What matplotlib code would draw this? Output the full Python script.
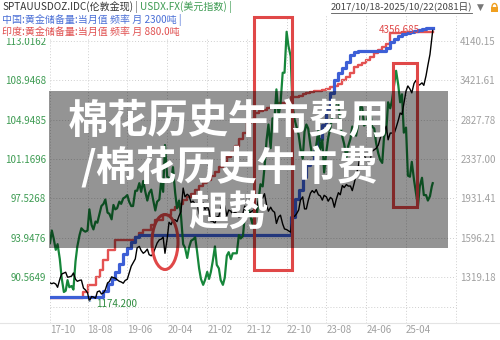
import matplotlib
matplotlib.use("Agg")
import matplotlib.patches as mpatches
import matplotlib.pyplot as plt
import matplotlib.transforms as mtransforms
import numpy as np
import pandas as pd
from matplotlib.lines import Line2D
from matplotlib.ticker import NullLocator

FONT = ["Noto Sans CJK SC", "DejaVu Sans"]
plt.rcParams["font.family"] = FONT

start_date = "2017-10-18"
end_date = "2025-10-22"

# gold spot (USD/oz), start date, then 1st/15th of every month, then end date
gold = [1282,
        1277, 1282, 1275, 1255,
        1305, 1338, 1345, 1350, 1318, 1320, 1325, 1345, 1305, 1292, 1298, 1300,
        1250, 1240, 1222, 1174.2, 1200, 1197, 1190, 1228, 1233, 1215, 1222, 1240,
        1282, 1290, 1320, 1315, 1312, 1302, 1292, 1288, 1280, 1297, 1305, 1345,
        1390, 1412, 1440, 1520, 1530, 1500, 1480, 1490, 1510, 1470, 1462, 1476,
        1520, 1555, 1580, 1585, 1600, 1480, 1590, 1720, 1700, 1740, 1740, 1725,
        1775, 1810, 2030, 1945, 1970, 1955, 1890, 1905, 1880, 1885, 1790, 1855,
        1890, 1830, 1860, 1820, 1730, 1730, 1710, 1765, 1770, 1840, 1905, 1860,
        1775, 1825, 1815, 1780, 1815, 1790, 1760, 1770, 1795, 1860, 1780, 1780,
        1810, 1820, 1800, 1855, 1910, 1930, 1935, 1975, 1870, 1815, 1850, 1820,
        1805, 1710, 1765, 1780, 1705, 1665, 1660, 1650, 1640, 1775, 1770, 1790,
        1825, 1915, 1945, 1835, 1835, 1910, 1980, 2005, 1985, 2015, 1965, 1955,
        1915, 1960, 1945, 1905, 1940, 1925, 1850, 1920, 1985, 1965, 2055, 2035,
        2065, 2050, 2050, 2005, 2080, 2160, 2250, 2380, 2305, 2385, 2330, 2320,
        2330, 2425, 2445, 2460, 2500, 2580, 2660, 2665, 2740, 2565, 2650, 2650,
        2650, 2720, 2820, 2920, 2900, 3050, 3250, 3330, 3280, 3220, 3370, 3420,
        3340, 3350, 3380, 3340, 3500, 3680, 3880, 4200,
        4356.685]

# dollar index, same dates as gold
usdx = [93.5,
        94.6, 93.9, 92.9, 93.4,
        92.1, 90.5, 89.3, 89.4, 90.3, 89.7, 89.8, 89.5, 91.9, 93.2, 94.2, 94.8,
        94.6, 94.5, 94.6, 96.5, 95.1, 94.7, 95.4, 95.3, 96.1, 96.8, 97.0, 97.4,
        96.2, 96.1, 95.6, 96.9, 96.5, 96.6, 97.2, 97.0, 97.5, 97.6, 97.8, 97.2,
        96.8, 96.8, 98.2, 98.2, 98.9, 98.1, 99.1, 98.2, 97.3, 98.0, 98.3, 97.4,
        96.4, 97.2, 97.4, 99.1, 98.1, 102.5, 99.5, 99.4, 99.0, 100.4, 98.0, 96.6,
        97.3, 96.0, 93.4, 93.1, 92.2, 93.1, 93.7, 93.8, 94.0, 92.8, 91.3, 90.4,
        89.9, 90.3, 91.0, 90.4, 91.0, 91.9, 93.2, 91.6, 91.3, 90.3, 89.9, 90.5,
        92.4, 92.7, 92.1, 92.6, 92.6, 92.6, 94.2, 93.9, 94.1, 95.9, 96.0, 96.6,
        95.7, 95.1, 96.6, 96.0, 97.4, 98.8, 98.6, 100.4, 103.0, 104.5, 102.2, 105.1,
        105.1, 108.0, 105.4, 106.5, 109.7, 109.7, 114.0, 112.5, 111.4, 106.4, 105.0, 104.3,
        103.5, 102.2, 101.2, 103.8, 104.5, 104.1, 102.5, 101.5, 101.7, 102.4, 104.0, 102.1,
        103.0, 99.9, 101.9, 103.2, 104.2, 105.3, 106.2, 106.6, 106.7, 104.4, 103.3, 102.6,
        101.3, 102.4, 103.1, 104.3, 103.9, 103.4, 104.6, 106.2, 106.2, 104.4, 104.6, 105.5,
        105.9, 104.3, 104.1, 102.7, 101.7, 101.1, 100.8, 103.3, 103.9, 106.7, 106.1, 106.9,
        108.5, 109.9, 108.4, 106.7, 107.5, 103.7, 104.2, 99.6, 99.5, 100.9, 99.2, 98.1,
        96.8, 98.6, 99.4, 97.8, 97.8, 97.3, 97.7, 98.6,
        98.9]

# gold reserves (tonnes), monthly Oct 2017 .. Oct 2025
china_reserve = ([1842.6] * 14 + [1852.5]
                 + [1864.3, 1874.3, 1885.5, 1899.6, 1915.8, 1926.6, 1936.5, 1945.3]
                 + [1948.3] * 38 + [1980.4, 2010.5]
                 + [2025.5, 2048.3, 2068.2, 2076.2, 2092.1, 2113.5, 2136.9, 2165.4,
                    2191.5, 2215.2, 2226.4, 2235.4]
                 + [2245.3, 2257.1, 2262.4] + [2264.3] * 7 + [2269.3, 2279.6]
                 + [2284.9, 2289.9, 2292.3, 2294.9, 2296.4, 2298.5, 2299.2, 2301.5,
                    2303.5, 2303.5])

india_reserve = ([557.8] * 9 + [565.1, 573.5, 573.5, 583.0, 591.7, 603.8]
                 + [615.9, 615.9, 628.0, 628.0, 628.0, 628.0, 628.0, 631.6, 636.0,
                    640.2, 640.2, 646.0]
                 + [652.3, 652.3, 658.0, 658.0, 664.4, 668.0, 672.0, 676.5, 680.0,
                    684.0, 688.6, 693.0]
                 + [697.0, 701.0, 706.0, 711.0, 716.0, 721.3, 728.0, 735.0, 742.0,
                    750.0, 757.7, 769.8]
                 + [775.0, 781.9, 784.0, 786.0, 788.0, 790.0, 792.0, 794.0, 794.0,
                    797.0, 801.3, 801.3]
                 + [803.0, 805.0, 806.1, 807.0, 808.0, 809.0, 809.7, 811.0, 813.4,
                    815.0, 817.0, 821.9]
                 + [825.0, 830.0, 837.6, 840.0, 843.0, 846.0, 850.0, 854.6, 858.0,
                    861.8, 865.0, 878.8]
                 + [879.0, 879.0, 879.6, 879.6, 879.6, 880.0, 880.0, 880.0, 880.0, 880.0])

usdx_ticks = [90.5649, 93.9476, 97.5268, 101.1696, 104.9485, 108.9468, 113.0162]
gold_ticks = [1319.18, 1596.21, 1931.41, 2337.00, 2827.78, 3421.61, 4140.15]
x_tick_dates = ["2017-10-18", "2018-08-01", "2019-06-01", "2020-04-01", "2021-02-01",
                "2021-12-01", "2022-10-01", "2023-08-01", "2024-06-01", "2025-04-01"]
x_tick_labels = ["17-10", "18-08", "19-06", "20-04", "21-02",
                 "21-12", "22-10", "23-08", "24-06", "25-04"]

title = "棉花历史牛市费用\n/棉花历史牛市费\n趄势"

W, H = 500, 340


def fx(px):
    return px / W


def fy(py):
    return 1 - py / H


semi_dates = pd.to_datetime(
    [start_date]
    + list(pd.date_range("2017-11-01", "2025-10-15", freq="SMS"))
    + [end_date])
month_dates = pd.to_datetime(
    [start_date] + list(pd.date_range("2017-11-01", "2025-10-01", freq="MS")) + [end_date])
cn = china_reserve + [china_reserve[-1]]
ind = india_reserve + [india_reserve[-1]]

fig = plt.figure(figsize=(5, 3.4), dpi=100)
ax_in = fig.add_axes([fx(50), fy(307), (456 - 50) / W, (307 - 14) / H])
ax_cn = ax_in.twinx()
ax_usd = ax_in.twinx()
ax_gold = ax_in.twinx()

x0 = pd.Timestamp(start_date)
ax_in.set_xlim(x0, x0 + pd.Timedelta(days=3104))

ax_in.plot(month_dates, ind, drawstyle="steps-post", color="#e45252", lw=1.7)
ax_cn.plot(month_dates, cn, drawstyle="steps-post", color="#3d5fd6", lw=2.3)
ax_usd.plot(semi_dates, usdx, color="#16863a", lw=1.6)
ax_gold.plot(semi_dates, gold, color="black", lw=1.0)

ax_in.set_ylim(546.9, 901.8)
ax_cn.set_ylim(1825.5, 2327.4)
ax_usd.set_yscale("log")
ax_usd.set_ylim(88.05, 115.916)
ax_gold.set_yscale("log")
ax_gold.set_ylim(1140.7, 4719)

for a in (ax_in, ax_cn, ax_usd, ax_gold):
    for s in a.spines.values():
        s.set_visible(False)
    a.yaxis.set_minor_locator(NullLocator())

ax_in.set_yticks([])
ax_cn.set_yticks([])

ax_usd.yaxis.tick_left()
ax_usd.set_yticks(usdx_ticks)
ax_usd.set_yticklabels([f"{v:.4f}" for v in usdx_ticks])
ax_usd.tick_params(axis="y", length=0, pad=3, labelsize=7, labelcolor="#3d9b52")

ax_gold.yaxis.tick_right()
ax_gold.set_yticks(gold_ticks)
ax_gold.set_yticklabels([f"{v:.2f}" for v in gold_ticks])
ax_gold.tick_params(axis="y", length=0, pad=3, labelsize=7, labelcolor="#a0a0a0")

ax_in.set_xticks(pd.to_datetime(x_tick_dates))
ax_in.set_xticklabels(x_tick_labels, ha="left")
ax_in.tick_params(axis="x", length=0, pad=13, labelsize=7, labelcolor="#a0a0a0")

# grid
grid_kw = dict(color="#cfcfcf", lw=0.7, ls=(0, (1, 2)))
blend = mtransforms.blended_transform_factory(ax_in.transAxes, ax_gold.transData)
for v in gold_ticks:
    ax_in.add_line(Line2D([0, 1], [v, v], transform=blend, **grid_kw))
ax_in.add_line(Line2D([0, 1], [0, 0], transform=ax_in.transAxes, clip_on=False, **grid_kw))
for d in list(pd.to_datetime(x_tick_dates)):
    ax_in.axvline(d, ymin=-16 / 293, ymax=1, clip_on=False, **grid_kw)
ax_in.axvline(ax_in.get_xlim()[1], ymin=-16 / 293, ymax=1, clip_on=False, **grid_kw)
fig.add_artist(Line2D([0, 1], [fy(323), fy(323)], color="#e4e4e4", lw=0.8))

# min / max labels on gold
i_min = int(np.argmin(gold))
i_max = int(np.argmax(gold))
ax_gold.annotate(f"{gold[i_min]:.3f}", xy=(semi_dates[i_min], gold[i_min]),
                 xytext=(5, -2), textcoords="offset points", fontsize=7,
                 color="#2e8b3e", va="center", ha="left",
                 arrowprops=dict(arrowstyle="-", color="#8fb3e0", lw=0.8))
ax_gold.annotate(f"{gold[i_max]:.3f}", xy=(semi_dates[i_max], gold[i_max]),
                 xytext=(-9, 0), textcoords="offset points", fontsize=7,
                 color="#e04848", va="center", ha="right")

# highlight shapes
box_kw = dict(fill=False, ec="#e04848", lw=2.2, transform=fig.transFigure, zorder=5)
fig.add_artist(mpatches.Rectangle((fx(254), fy(270)), (292 - 254) / W, (270 - 17) / H, **box_kw))
fig.add_artist(mpatches.Rectangle((fx(393), fy(207)), (417 - 393) / W, (207 - 63) / H, **box_kw))
fig.add_artist(mpatches.Ellipse((fx(165), fy(242)), 26 / W, 55 / H, **box_kw))

# grey overlay with title
fig.add_artist(mpatches.Rectangle((fx(49), fy(248)), (448 - 49) / W, (248 - 91) / H,
                                  fc="black", alpha=0.42, ec="none",
                                  transform=fig.transFigure, zorder=6))
fig.text(fx(229), fy(168), title, color="white", fontsize=29, weight="bold",
         ha="center", va="center", multialignment="center", linespacing=1.12,
         zorder=7)

# header
fig.add_artist(mpatches.Rectangle((0, fy(38)), fx(248), 38 / H, fc="white", ec="none",
                                  transform=fig.transFigure, zorder=4))
renderer = fig.canvas.get_renderer()


def write_row(x, y, segments, size=7.2):
    for txt, col in segments:
        t = fig.text(fx(x), fy(y), txt, color=col, fontsize=size, ha="left",
                     va="center", zorder=8)
        x = t.get_window_extent(renderer).x1


write_row(2, 7, [("SPTAUUSDOZ.IDC(伦敦金现)", "#333333"), (" | ", "#666666"),
                 ("USDX.FX(美元指数)", "#3d9b52"), (" |", "#3d9b52")])
write_row(2, 20, [("中国:黄金储备量:当月值 频率 月 2300吨 |", "#4a6fd6")])
write_row(2, 32, [("印度:黄金储备量:当月值 频率 月 880.0吨", "#e05050")])

dr = fig.text(fx(472), fy(7), "2017/10/18-2025/10/22(2081日)", color="#444444",
              fontsize=6.9, ha="right", va="center", zorder=8)
bb = dr.get_window_extent(renderer)
fig.add_artist(Line2D([bb.x0 / W, bb.x1 / W], [fy(13), fy(13)], color="#555555", lw=0.6))
fig.text(fx(477), fy(7), "▼", color="#777777", fontsize=6.5, ha="left", va="center",
         family="DejaVu Sans")
fig.add_artist(mpatches.Rectangle((fx(491), fy(12)), 7 / W, 5 / H, fc="#f0a020", ec="none",
                                  transform=fig.transFigure))
fig.add_artist(mpatches.Arc((fx(494.5), fy(7)), 5 / W, 7 / H, theta1=0, theta2=180,
                            color="#f0a020", lw=1.0, transform=fig.transFigure))

fig.savefig("out.png", dpi=100)
